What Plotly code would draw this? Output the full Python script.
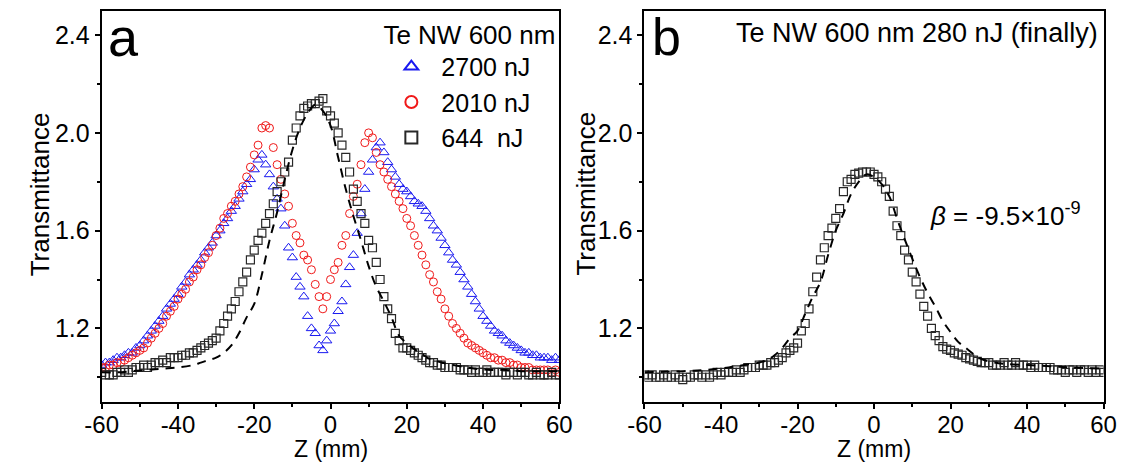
import plotly.graph_objects as go

W, H = 1137, 463

# ---------------- data ----------------
z = list(range(-60, 61))

t_2700 = [
    1.05, 1.06, 1.06, 1.07, 1.08, 1.08, 1.09, 1.10, 1.10, 1.12,
    1.13, 1.15, 1.17, 1.19, 1.21, 1.23, 1.25, 1.28, 1.30, 1.32,
    1.34, 1.37, 1.39, 1.42, 1.44, 1.46, 1.48, 1.51, 1.53, 1.55,
    1.58, 1.60, 1.63, 1.65, 1.68, 1.70, 1.73, 1.76, 1.79, 1.81,
    1.85, 1.89, 1.91, 1.87, 1.83, 1.78, 1.73, 1.69, 1.62, 1.53,
    1.49, 1.41, 1.37, 1.33, 1.25, 1.20, 1.18, 1.13, 1.11, 1.15,
    1.19, 1.22, 1.27, 1.31, 1.38, 1.45, 1.50, 1.59, 1.67, 1.77,
    1.84, 1.89, 1.94, 1.96, 1.92, 1.88, 1.85, 1.82, 1.79, 1.77,
    1.76, 1.74, 1.72, 1.71, 1.70, 1.68, 1.65, 1.62, 1.60, 1.57,
    1.54, 1.51, 1.48, 1.46, 1.43, 1.40, 1.37, 1.34, 1.31, 1.28,
    1.25, 1.23, 1.21, 1.19, 1.18, 1.17, 1.15, 1.14, 1.13, 1.12,
    1.11, 1.10, 1.10, 1.09, 1.09, 1.08, 1.08, 1.08, 1.07, 1.08,
    1.07,
]

t_2010 = [
    1.04, 1.04, 1.05, 1.05, 1.06, 1.06, 1.07, 1.08, 1.09, 1.10,
    1.11, 1.12, 1.14, 1.16, 1.18, 1.20, 1.22, 1.25, 1.27, 1.29,
    1.32, 1.34, 1.36, 1.39, 1.41, 1.44, 1.46, 1.49, 1.51, 1.54,
    1.58, 1.61, 1.65, 1.67, 1.70, 1.72, 1.75, 1.78, 1.82, 1.86,
    1.91, 1.95, 2.02, 2.03, 2.02, 1.94, 1.87, 1.81, 1.75, 1.70,
    1.63, 1.58, 1.55, 1.50, 1.48, 1.44, 1.38, 1.33, 1.28, 1.33,
    1.40, 1.44, 1.47, 1.54, 1.58, 1.67, 1.74, 1.79, 1.87, 1.96,
    2.00, 1.98, 1.92, 1.87, 1.84, 1.81, 1.78, 1.75, 1.72, 1.69,
    1.65, 1.62, 1.58, 1.54, 1.50, 1.46, 1.42, 1.39, 1.35, 1.32,
    1.28, 1.25, 1.22, 1.20, 1.18, 1.16, 1.14, 1.13, 1.12, 1.11,
    1.10, 1.09, 1.08, 1.08, 1.07, 1.07, 1.06, 1.06, 1.05, 1.05,
    1.04, 1.04, 1.04, 1.03, 1.03, 1.03, 1.03, 1.03, 1.02, 1.03,
    1.02,
]

t_644 = [
    1.02, 1.01, 1.01, 1.01, 1.02, 1.02, 1.03, 1.02, 1.03, 1.04,
    1.04, 1.05, 1.04, 1.05, 1.06, 1.06, 1.07, 1.06, 1.08, 1.08,
    1.08, 1.09, 1.09, 1.10, 1.10, 1.11, 1.12, 1.13, 1.14, 1.15,
    1.16, 1.19, 1.22, 1.25, 1.28, 1.31, 1.35, 1.39, 1.43, 1.48,
    1.52, 1.56, 1.59, 1.63, 1.67, 1.71, 1.76, 1.80, 1.84, 1.88,
    1.97, 2.02, 2.07, 2.10, 2.11, 2.12, 2.12, 2.13, 2.14, 2.09,
    2.07, 2.04, 2.00, 1.95, 1.90, 1.84, 1.77, 1.72, 1.67, 1.63,
    1.56, 1.53, 1.47, 1.40, 1.33, 1.28, 1.24, 1.18, 1.15, 1.12,
    1.12, 1.11, 1.10, 1.09, 1.08, 1.07, 1.06, 1.06, 1.05, 1.05,
    1.04, 1.04, 1.04, 1.04, 1.03, 1.03, 1.03, 1.02, 1.03, 1.02,
    1.02, 1.03, 1.02, 1.02, 1.02, 1.02, 1.01, 1.02, 1.02, 1.01,
    1.02, 1.02, 1.01, 1.01, 1.02, 1.01, 1.01, 1.01, 1.02, 1.01,
    1.01,
]

fit_a_z = [-60, -56, -52, -48, -44, -40, -36, -34, -32, -30, -28, -26,
           -24, -22, -20, -18, -16, -14, -12, -10, -8, -6, -4, -2,
           0, 2, 4, 6, 8, 10, 12, 14, 16, 18, 20, 22, 24, 26, 28, 30,
           34, 38, 42, 46, 50, 55, 60]
fit_a_t = [1.02, 1.02, 1.025, 1.03, 1.035, 1.04, 1.05, 1.06, 1.07, 1.08, 1.10, 1.13,
           1.18, 1.245, 1.30, 1.42, 1.56, 1.675, 1.81, 1.93, 2.02, 2.08, 2.115, 2.09,
           2.03, 1.90, 1.77, 1.66, 1.56, 1.455, 1.37, 1.31, 1.245, 1.17, 1.14, 1.115,
           1.095, 1.075, 1.065, 1.057, 1.045, 1.035, 1.03, 1.03, 1.025, 1.025, 1.025]

t_280 = [
    1.01, 1.00, 1.01, 1.00, 1.00, 1.01, 1.00, 1.00, 1.01, 1.00,
    0.99, 1.00, 1.00, 1.01, 1.01, 1.00, 1.01, 1.00, 1.01, 1.02,
    1.01, 1.02, 1.02, 1.02, 1.03, 1.02, 1.03, 1.04, 1.04, 1.04,
    1.05, 1.05, 1.05, 1.06, 1.06, 1.07, 1.08, 1.10, 1.11, 1.12,
    1.14, 1.19, 1.22, 1.28, 1.35, 1.41, 1.48, 1.53, 1.58, 1.61,
    1.65, 1.69, 1.76, 1.80, 1.81, 1.83, 1.835, 1.84, 1.84, 1.84,
    1.83, 1.82, 1.80, 1.77, 1.74, 1.68, 1.62, 1.58, 1.52, 1.48,
    1.43, 1.39, 1.34, 1.29, 1.25, 1.20, 1.17, 1.15, 1.125, 1.115,
    1.11, 1.10, 1.095, 1.09, 1.08, 1.075, 1.07, 1.065, 1.06, 1.06,
    1.06, 1.05, 1.05, 1.05, 1.06, 1.05, 1.05, 1.06, 1.05, 1.05,
    1.05, 1.04, 1.05, 1.04, 1.04, 1.04, 1.04, 1.03, 1.03, 1.03,
    1.02, 1.03, 1.03, 1.02, 1.03, 1.03, 1.02, 1.03, 1.02, 1.03,
    1.02,
]

fit_b_z = [-60, -50, -44, -38, -34, -30, -28, -26, -24, -22, -20, -18, -16, -14,
           -12, -10, -8, -6, -4, -2, 0, 2, 4, 6, 8, 10, 12, 14, 16, 18, 20, 22,
           24, 26, 28, 30, 34, 40, 46, 52, 60]
fit_b_t = [1.02, 1.025, 1.03, 1.04, 1.05, 1.06, 1.07, 1.09, 1.12, 1.16, 1.19, 1.26,
           1.33, 1.39, 1.50, 1.60, 1.67, 1.75, 1.80, 1.83, 1.82, 1.79, 1.74, 1.65,
           1.565, 1.485, 1.41, 1.345, 1.29, 1.23, 1.185, 1.145, 1.12, 1.095, 1.075,
           1.065, 1.055, 1.05, 1.045, 1.04, 1.035]

series_names = ["2700 nJ", "2010 nJ", "644  nJ"]
legend_title = "Te NW 600 nm"
panel_b_title = "Te NW 600 nm 280 nJ (finally)"
beta_text = "<i>β</i> = -9.5×10<sup>-9</sup>"

x_tickvals = [-60, -40, -20, 0, 20, 40, 60]
x_ticktext = ["-60", "-40", "-20", "0", "20", "40", "60"]
x_minor = [-50, -30, -10, 10, 30, 50]
y_tickvals = [1.2, 1.6, 2.0, 2.4]
y_ticktext = ["1.2", "1.6", "2.0", "2.4"]
y_minor = [1.0, 1.4, 1.8, 2.2]

# ---------------- layout helpers ----------------
FONT = "Arial, Liberation Sans, sans-serif"


def px_x(p):
    return p / W


def px_y(p):
    return 1 - p / H


AX_L, AX_R = 87, 557
BX_L, BX_R = 644.5, 1116
Y_T, Y_B = 10.7, 401.7

fig = go.Figure()

blue = "rgb(25,25,240)"
red = "rgb(240,25,25)"
black = "rgb(40,40,40)"

fig.add_trace(go.Scatter(x=z, y=t_2700, mode="markers", name=series_names[0],
                         marker=dict(symbol="triangle-up-open", size=9, color=blue,
                                     line=dict(width=1, color=blue)),
                         xaxis="x", yaxis="y"))
fig.add_trace(go.Scatter(x=z, y=t_2010, mode="markers", name=series_names[1],
                         marker=dict(symbol="circle-open", size=8, color=red,
                                     line=dict(width=1, color=red)),
                         xaxis="x", yaxis="y"))
fig.add_trace(go.Scatter(x=z, y=t_644, mode="markers", name=series_names[2],
                         marker=dict(symbol="square-open", size=8, color=black,
                                     line=dict(width=1.2, color=black)),
                         xaxis="x", yaxis="y"))
fig.add_trace(go.Scatter(x=fit_a_z, y=fit_a_t, mode="lines", showlegend=False,
                         line=dict(color="black", width=2, dash="9px,7px", shape="spline"),
                         xaxis="x", yaxis="y"))

fig.add_trace(go.Scatter(x=z, y=t_280, mode="markers", showlegend=False,
                         marker=dict(symbol="square-open", size=8, color=black,
                                     line=dict(width=1.2, color=black)),
                         xaxis="x2", yaxis="y2"))
fig.add_trace(go.Scatter(x=fit_b_z, y=fit_b_t, mode="lines", showlegend=False,
                         line=dict(color="black", width=2, dash="9px,7px", shape="spline"),
                         xaxis="x2", yaxis="y2"))


def xaxis(domain, anchor):
    return dict(domain=domain, anchor=anchor, range=[-60, 60],
                tickmode="array", tickvals=x_tickvals, ticktext=x_ticktext,
                ticks="outside", ticklen=5, tickwidth=2, tickcolor="black",
                ticklabelstandoff=-5,
                showline=True, linewidth=2, linecolor="black", mirror=True,
                showgrid=False, zeroline=False,
                tickfont=dict(family=FONT, size=24, color="black"),
                minor=dict(tickmode="array", tickvals=x_minor, ticks="outside",
                           ticklen=3, tickwidth=2, tickcolor="black"))


def yaxis(domain, anchor):
    return dict(domain=domain, anchor=anchor, range=[0.9, 2.5],
                tickmode="array", tickvals=y_tickvals, ticktext=y_ticktext,
                ticks="outside", ticklen=5, tickwidth=2, tickcolor="black",
                showline=True, linewidth=2, linecolor="black", mirror=True,
                showgrid=False, zeroline=False,
                tickfont=dict(family=FONT, size=25, color="black"),
                minor=dict(tickmode="array", tickvals=y_minor, ticks="outside",
                           ticklen=3, tickwidth=2, tickcolor="black"))


ydom = [px_y(Y_B), px_y(Y_T)]

annotations = [
    dict(text="a", x=px_x(AX_L + 4), y=px_y(37), xref="paper", yref="paper",
         xanchor="left", yanchor="middle", showarrow=False,
         font=dict(family=FONT, size=54, color="black")),
    dict(text="b", x=px_x(BX_L + 6), y=px_y(37), xref="paper", yref="paper",
         xanchor="left", yanchor="middle", showarrow=False,
         font=dict(family=FONT, size=52, color="black")),
    dict(text=panel_b_title, x=px_x(BX_R - 4), y=px_y(33), xref="paper", yref="paper",
         xanchor="right", yanchor="middle", showarrow=False,
         font=dict(family=FONT, size=27, color="black")),
    dict(text=beta_text, x=px_x(936), y=px_y(214), xref="paper", yref="paper",
         xanchor="left", yanchor="middle", showarrow=False,
         font=dict(family=FONT, size=26, color="black")),
    dict(text="Z (mm)", x=px_x((AX_L + AX_R) / 2), y=px_y(463), xref="paper", yref="paper",
         xanchor="center", yanchor="bottom", showarrow=False, borderpad=0,
         font=dict(family=FONT, size=23, color="black")),
    dict(text="Z (mm)", x=px_x((BX_L + BX_R) / 2), y=px_y(463), xref="paper", yref="paper",
         xanchor="center", yanchor="bottom", showarrow=False, borderpad=0,
         font=dict(family=FONT, size=23, color="black")),
    dict(text="Transmittance", x=px_x(24), y=px_y(194), xref="paper", yref="paper",
         xanchor="center", yanchor="middle", textangle=-90, showarrow=False,
         font=dict(family=FONT, size=26, color="black")),
    dict(text="Transmittance", x=px_x(584), y=px_y(194), xref="paper", yref="paper",
         xanchor="center", yanchor="middle", textangle=-90, showarrow=False,
         font=dict(family=FONT, size=26, color="black")),
]

fig.update_layout(
    width=W, height=H,
    margin=dict(l=0, r=0, t=0, b=0),
    paper_bgcolor="white", plot_bgcolor="white",
    font=dict(family=FONT, color="black"),
    xaxis=xaxis([px_x(AX_L), px_x(AX_R)], "y"),
    yaxis=yaxis(ydom, "x"),
    xaxis2=xaxis([px_x(BX_L), px_x(BX_R)], "y2"),
    yaxis2=yaxis(ydom, "x2"),
    showlegend=True,
    legend=dict(x=px_x(AX_R - 2), y=px_y(10), xanchor="right", yanchor="top",
                bgcolor="rgba(0,0,0,0)", borderwidth=0,
                font=dict(family=FONT, size=25, color="black"),
                title=dict(text=legend_title, side="top right",
                           font=dict(family=FONT, size=26, color="black")),
                itemwidth=50, tracegroupgap=0, itemsizing="constant"),
    annotations=annotations,
)

fig.write_html(
    "out.html",
    config={"displayModeBar": False},
    post_script="document.body.style.margin='0';document.body.style.padding='0';"
                "document.body.style.overflow='hidden';",
)
